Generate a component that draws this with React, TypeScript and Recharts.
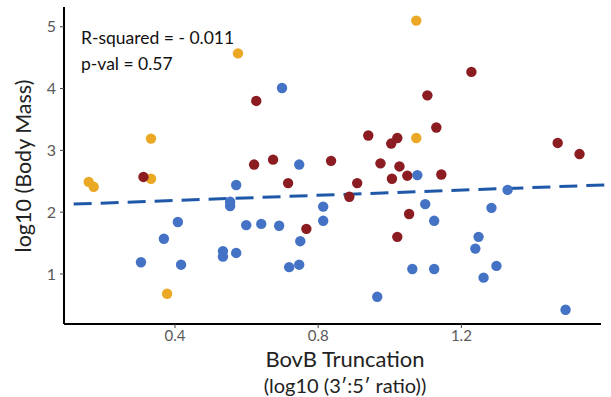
import React from "react";
import { ScatterChart, Scatter, XAxis, YAxis, ReferenceLine } from "recharts";

// log10 3':5' ratio vs log10 body mass, three groups
const orangeX = [0.159, 0.173, 0.333, 0.333, 0.378, 0.576, 1.074, 1.074];
const orangeY = [2.49, 2.41, 3.19, 2.54, 0.68, 4.57, 5.1, 3.2];

const redX = [
  0.312, 0.627, 0.621, 0.674, 0.716, 0.836, 0.909, 0.887, 0.94, 1.004, 1.021, 1.006,
  1.027, 0.974, 1.049, 1.105, 1.13, 1.144, 1.228, 1.469, 1.53, 0.767, 1.021, 1.054,
];
const redY = [
  2.57, 3.8, 2.77, 2.85, 2.47, 2.83, 2.47, 2.25, 3.24, 3.11, 3.2, 2.54,
  2.74, 2.79, 2.59, 3.89, 3.37, 2.61, 4.27, 3.12, 2.94, 1.73, 1.6, 1.97,
];

const blueX = [
  0.305, 0.369, 0.408, 0.417, 0.571, 0.699, 0.747, 0.554, 0.554, 0.599, 0.641, 0.691,
  0.534, 0.534, 0.571, 0.719, 0.747, 0.75, 0.814, 0.814, 0.965, 1.077, 1.329, 1.099,
  1.124, 1.063, 1.124, 1.284, 1.248, 1.239, 1.298, 1.262, 1.491,
];
const blueY = [
  1.19, 1.57, 1.84, 1.15, 2.44, 4.01, 2.77, 2.17, 2.1, 1.79, 1.81, 1.78,
  1.37, 1.28, 1.34, 1.11, 1.15, 1.53, 2.09, 1.86, 0.63, 2.6, 2.36, 2.13,
  1.86, 1.08, 1.08, 2.07, 1.6, 1.41, 1.13, 0.94, 0.42,
];

// fitted line endpoints
const fitX = [0.117, 1.6];
const fitY = [2.13, 2.44];

const xTicks = [0.4, 0.8, 1.2];
const yTicks = [1, 2, 3, 4, 5];

const FONT = "Lato, 'Open Sans', sans-serif";

const toPoints = (xs: number[], ys: number[]) => xs.map((x, i) => ({ x, y: ys[i] }));

const dot = (color: string) => (props: any) =>
  <circle cx={props.cx} cy={props.cy} r={5.2} fill={color} />;

export default function App() {
  return (
    <div style={{ position: "absolute", left: 0, top: 0, width: 611, height: 397, background: "#fff", fontFamily: FONT }}>
      <ScatterChart width={611} height={397} margin={{ top: 7, right: 10, bottom: 0, left: 0 }}>
        <XAxis
          type="number"
          dataKey="x"
          domain={[0.09, 1.59]}
          ticks={xTicks}
          tickFormatter={(v) => v.toFixed(1)}
          height={73}
          axisLine={{ stroke: "#000", strokeWidth: 2 }}
          tickLine={{ stroke: "#444" }}
          tickSize={4}
          tickMargin={2}
          tick={{ fill: "#595959", fontSize: 15, fontFamily: FONT }}
          allowDataOverflow
        />
        <YAxis
          type="number"
          dataKey="y"
          domain={[0.19, 5.32]}
          ticks={yTicks}
          width={64}
          axisLine={{ stroke: "#000", strokeWidth: 2 }}
          tickLine={{ stroke: "#444" }}
          tickSize={4}
          tickMargin={4}
          tick={{ fill: "#595959", fontSize: 16, fontFamily: FONT }}
          allowDataOverflow
        />
        <Scatter data={toPoints(orangeX, orangeY)} shape={dot("#EBA824")} isAnimationActive={false} />
        <Scatter data={toPoints(redX, redY)} shape={dot("#8A1C22")} isAnimationActive={false} />
        <Scatter data={toPoints(blueX, blueY)} shape={dot("#4472C4")} isAnimationActive={false} />
        <ReferenceLine
          segment={[
            { x: fitX[0], y: fitY[0] },
            { x: fitX[1], y: fitY[1] },
          ]}
          stroke="#1F58A8"
          strokeWidth={3}
          strokeDasharray="18 9"
          ifOverflow="visible"
        />
      </ScatterChart>
      <svg width={611} height={397} style={{ position: "absolute", left: 0, top: 0, pointerEvents: "none" }}>
        <text x={81} y={44} fontSize={17.5} fill="#111" fontFamily={FONT}>R-squared = - 0.011</text>
        <text x={81} y={70} fontSize={17.5} fill="#111" fontFamily={FONT}>p-val = 0.57</text>
        <text x={345} y={367} fontSize={22} fill="#222" textAnchor="middle" fontFamily={FONT}>BovB Truncation</text>
        <text x={345} y={393} fontSize={20} fill="#222" textAnchor="middle" fontFamily={FONT}>(log10 (3′:5′ ratio))</text>
        <text
          x={0}
          y={0}
          fontSize={21.5}
          fill="#222"
          textAnchor="middle"
          fontFamily={FONT}
          transform="translate(31,166) rotate(-90)"
        >
          log10 (Body Mass)
        </text>
      </svg>
    </div>
  );
}
